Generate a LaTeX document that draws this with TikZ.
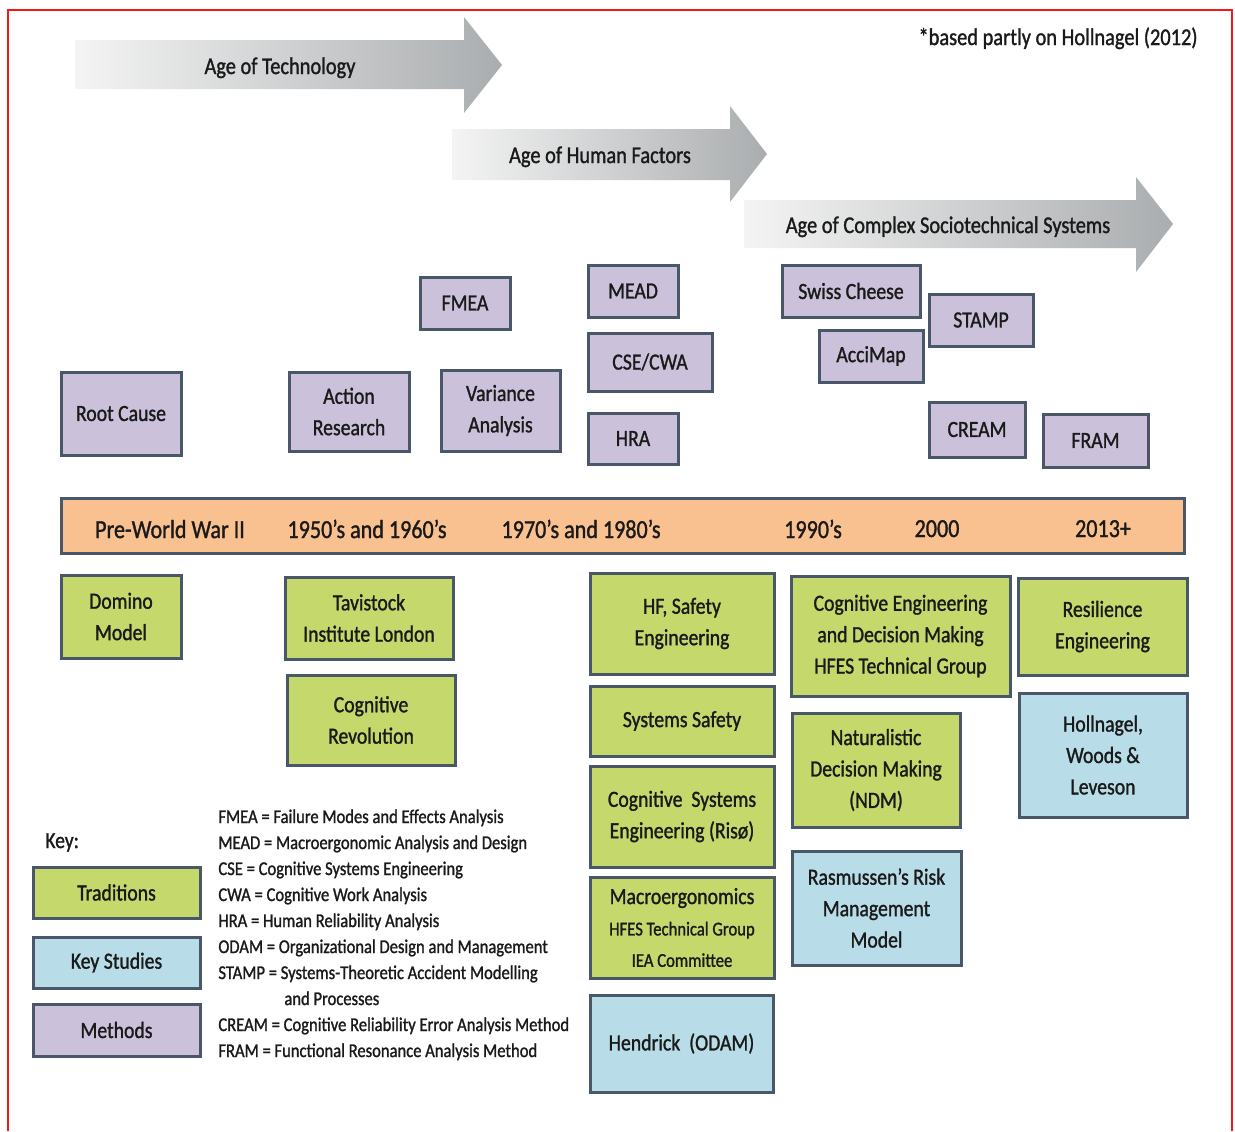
\documentclass[tikz,border=0pt]{standalone}
\usepackage{fontspec}
\setmainfont{Carlito}[FakeStretch=0.85, FakeBold=1.2]
\usetikzlibrary{backgrounds}

\definecolor{methodfill}{HTML}{CCC1DB}
\definecolor{tradfill}{HTML}{C5D86C}
\definecolor{studyfill}{HTML}{B8DCE8}
\definecolor{barfill}{HTML}{F9C190}
\definecolor{edge}{HTML}{4A5768}
\definecolor{linkc}{HTML}{8793A3}
\definecolor{ink}{HTML}{1A1A1A}
\definecolor{framered}{HTML}{F01818}
\definecolor{arrowlight}{HTML}{F4F4F4}
\definecolor{arrowdark}{HTML}{AAADAF}

\newcommand\boxfont{\fontsize{11.6}{15.7}\selectfont}
\newcommand\smallboxfont{\fontsize{9.8}{14}\selectfont}

% \tlbox{style}{name}{x1}{y1}{x2}{y2}{text}: box given by its corners
\newcommand\tlbox[7]{%
  \pgfmathsetmacro\tlw{(#5-#3)*0.5}%
  \pgfmathsetmacro\tlh{(#6-#4)*0.5}%
  \node[#1, minimum width=\tlw pt, minimum height=\tlh pt] (#2)
    at ({(#3+#5)/2},{(#4+#6)/2}) {#7};}

\tikzset{
  tlbase/.style={draw=edge, line width=1.5pt, align=center, inner sep=1pt,
    text=ink, font=\boxfont},
  method/.style={tlbase, fill=methodfill},
  tradition/.style={tlbase, fill=tradfill},
  study/.style={tlbase, fill=studyfill},
  link/.style={draw=linkc, line width=0.6pt},
  eratext/.style={text=ink, font=\fontsize{12}{14}\selectfont, inner sep=0pt},
  bartext/.style={text=ink, font=\fontsize{13}{15}\selectfont, inner sep=0pt, anchor=base},
  abbr/.style={text=ink, font=\fontsize{9.75}{11}\selectfont, inner sep=0pt, anchor=base west},
}

\begin{document}
\begin{tikzpicture}[x=0.5pt,y=-0.5pt]
\useasboundingbox (0,0) rectangle (1235,1131);
\fill[white] (0,0) rectangle (1235,1131);

% outer frame
\draw[framered, line width=1pt] (8,1131) -- (8,10) -- (1232,10) -- (1232,1131);

% era arrows
\shade[left color=arrowlight, right color=arrowdark]
  (75,40) -- (464,40) -- (464,17) -- (502,65) -- (464,113) -- (464,89) -- (75,89) -- cycle;
\shade[left color=arrowlight, right color=arrowdark]
  (452,129) -- (730,129) -- (730,106) -- (767,154) -- (730,202) -- (730,180) -- (452,180) -- cycle;
\shade[left color=arrowlight, right color=arrowdark]
  (744,200) -- (1136,200) -- (1136,177) -- (1173,224) -- (1136,272) -- (1136,248) -- (744,248) -- cycle;
\node[eratext, anchor=base] (eraTech) at (280,74) {Age of Technology};
\node[eratext, anchor=base] (eraHF) at (600,163) {Age of Human Factors};
\node[eratext, anchor=base] (eraCSS) at (948,233) {Age of Complex Sociotechnical Systems};
\node[eratext, anchor=base east] (source) at (1198,45) {*based partly on Hollnagel (2012)};

% timeline bar
\node[draw=edge, line width=1.5pt, fill=barfill, minimum width=561.5pt, minimum height=27.5pt,
  inner sep=0pt] (bar) at (622.5,525.5) {};
\node[bartext] (lPre) at (170,538) {Pre-World War II};
\node[bartext] (l50) at (367,538) {1950’s and 1960’s};
\node[bartext] (l70) at (581,538) {1970’s and 1980’s};
\node[bartext] (l90) at (813,538) {1990’s};
\node[bartext] (l00) at (937,537) {2000};
\node[bartext] (l13) at (1103,537) {2013+};

% methods (above the bar)
\tlbox{method}{root}{61}{372}{181}{455}{Root Cause}
\tlbox{method}{action}{289}{372}{409}{451}{Action\\Research}
\tlbox{method}{fmea}{420}{277}{510}{329}{FMEA}
\tlbox{method}{variance}{441}{370}{560}{451}{Variance\\Analysis}
\tlbox{method}{mead}{588}{265}{678}{317}{MEAD}
\tlbox{method}{csecwa}{588}{333}{712}{391}{CSE/CWA}
\tlbox{method}{hra}{588}{413}{678}{464}{HRA}
\tlbox{method}{swiss}{782}{265}{920}{317}{Swiss Cheese}
\tlbox{method}{accimap}{819}{330}{923}{382}{AcciMap}
\tlbox{method}{stamp}{929}{294}{1033}{346}{STAMP}
\tlbox{method}{cream}{929}{402}{1025}{457}{CREAM}
\tlbox{method}{fram}{1043}{414}{1148}{467}{FRAM}

% traditions and key studies (below the bar)
\tlbox{tradition}{domino}{61}{575}{181}{658}{Domino\\Model}
\tlbox{tradition}{tavistock}{285}{577}{453}{659}{Tavistock\\Institute London}
\tlbox{tradition}{cogrev}{287}{675}{455}{765}{Cognitive\\Revolution}
\tlbox{tradition}{hfsafety}{590}{573}{774}{674}{HF, Safety\\Engineering}
\tlbox{tradition}{syssafety}{590}{686}{774}{756}{Systems Safety}
\tlbox{tradition}{cse}{590}{766}{774}{867}{Cognitive\ \ Systems\\Engineering (Risø)}
\tlbox{tradition}{macro}{590}{877}{774}{978}{Macroergonomics\\{\smallboxfont HFES Technical Group}\\{\smallboxfont IEA Committee}}
\tlbox{study}{hendrick}{590}{995}{773}{1092}{Hendrick\ \ (ODAM)}
\tlbox{tradition}{cedm}{791}{576}{1010}{696}{Cognitive Engineering\\and Decision Making\\HFES Technical Group}
\tlbox{tradition}{ndm}{792}{713}{960}{827}{Naturalistic\\Decision Making\\(NDM)}
\tlbox{study}{rasmussen}{792}{851}{961}{965}{Rasmussen’s Risk\\Management\\Model}
\tlbox{tradition}{resilience}{1018}{578}{1187}{675}{Resilience\\Engineering}
\tlbox{study}{hollnagel}{1019}{693}{1187}{817}{Hollnagel,\\Woods \&\\Leveson}

% connectors from boxes to the bar
\begin{pgfonlayer}{background}
\draw[link] (root.south west) -- (root.south west |- bar.north);
\draw[link] (action.south west) -- (action.south west |- bar.north);
\draw[link] (fmea.south west) -- (fmea.south west |- bar.north);
\draw[link] (variance.south west) -- (variance.south west |- bar.north);
\draw[link] (mead.south west) -- (mead.south west |- bar.north);
\draw[link] (swiss.south west) -- (swiss.south west |- bar.north);
\draw[link] (accimap.south west) -- (accimap.south west |- bar.north);
\draw[link] (stamp.south west) -- (stamp.south west |- bar.north);
\draw[link] (fram.south west) -- (fram.south west |- bar.north);
\draw[link] (domino.north west |- bar.south) -- (domino.north west);
\draw[link] (tavistock.north west |- bar.south) -- (tavistock.north west |- cogrev.north);
\draw[link] (hfsafety.north west |- bar.south) -- (hendrick.north west);
\draw[link] (cedm.north west |- bar.south) -- (cedm.north west |- rasmussen.north);
\draw[link] (resilience.north west |- bar.south) -- (resilience.north west |- hollnagel.north);
\end{pgfonlayer}

% key
\node[text=ink, font=\fontsize{11.5}{14}\selectfont, inner sep=0pt, anchor=base west] (keytitle) at (45,848) {Key:};
\tlbox{tradition}{keytrad}{33}{867}{200}{918}{Traditions}
\tlbox{study}{keystudy}{33}{937}{200}{988}{Key Studies}
\tlbox{method}{keymethod}{33}{1004}{200}{1056}{Methods}

% abbreviations
\node[abbr] (ab1) at (218,823) {FMEA = Failure Modes and Effects Analysis};
\node[abbr] (ab2) at (218,849) {MEAD = Macroergonomic Analysis and Design};
\node[abbr] (ab3) at (218,875) {CSE = Cognitive Systems Engineering};
\node[abbr] (ab4) at (218,901) {CWA = Cognitive Work Analysis};
\node[abbr] (ab5) at (218,927) {HRA = Human Reliability Analysis};
\node[abbr] (ab6) at (218,953) {ODAM = Organizational Design and Management};
\node[abbr] (ab7) at (218,979) {STAMP = Systems-Theoretic Accident Modelling};
\node[abbr] (ab8) at (284,1005) {and Processes};
\node[abbr] (ab9) at (218,1031) {CREAM = Cognitive Reliability Error Analysis Method};
\node[abbr] (ab10) at (218,1057) {FRAM = Functional Resonance Analysis Method};
\end{tikzpicture}
\end{document}
